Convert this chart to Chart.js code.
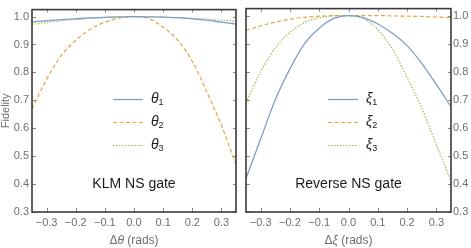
<!DOCTYPE html>
<html>
<head>
<meta charset="utf-8">
<script src="https://cdn.jsdelivr.net/npm/chart.js@4/dist/chart.umd.min.js"></script>
<style>
  html, body { margin: 0; padding: 0; background: #fff; }
  #wrap { position: relative; width: 471px; height: 248px; }
  canvas { position: absolute; top: 0; }
  #left { left: 0; }
  #right { left: 240px; }
</style>
</head>
<body>
<div id="wrap">
  <canvas id="left" width="240" height="248"></canvas>
  <canvas id="right" width="231" height="248"></canvas>
</div>
<script>
// offsets (rads) at which the fidelities were read
const OFFSETS = [-0.35, -0.3, -0.25, -0.2, -0.15, -0.1, -0.05, 0, 0.05, 0.1, 0.15, 0.2, 0.25, 0.3, 0.35];

// KLM NS gate
const THETA1 = [0.981, 0.985, 0.989, 0.992, 0.995, 0.997, 0.999, 1.0, 0.999, 0.998, 0.996, 0.992, 0.987, 0.980, 0.973];
const THETA2 = [0.67, 0.775, 0.86, 0.915, 0.955, 0.98, 0.995, 1.0, 0.993, 0.962, 0.915, 0.84, 0.73, 0.61, 0.47];
const THETA3 = [0.972, 0.979, 0.985, 0.990, 0.994, 0.997, 0.999, 1.0, 0.999, 0.998, 0.996, 0.994, 0.991, 0.987, 0.983];

// Reverse NS gate
const XI1 = [0.42, 0.56, 0.70, 0.81, 0.90, 0.955, 0.99, 1.0, 0.993, 0.97, 0.937, 0.893, 0.83, 0.755, 0.675];
const XI2 = [0.947, 0.963, 0.977, 0.987, 0.994, 0.998, 1.0, 1.0, 1.0, 1.0, 0.999, 0.998, 0.997, 0.995, 0.993];
const XI3 = [0.69, 0.80, 0.885, 0.94, 0.975, 0.992, 0.999, 1.0, 0.99, 0.95, 0.88, 0.78, 0.67, 0.54, 0.41];

const X_TICKS = [-0.3, -0.2, -0.1, 0, 0.1, 0.2, 0.3];
const Y_TICKS = [0.3, 0.4, 0.5, 0.6, 0.7, 0.8, 0.9, 1.0];

const FONT = "'Liberation Sans', Arial, sans-serif";
const TICK_COLOR = '#6e6e6e';
const STYLES = [
  { color: '#819dca', dash: [], width: 1.3 },
  { color: '#e4a63c', dash: [4, 2.5], width: 1.2 },
  { color: '#a0bc52', dash: [1.5, 1.5], width: 1.2 },
];
const LEGEND_ROWS = [99, 122, 145];

const fmt = v => (v < 0 ? '\u2212' : '') + Math.abs(v).toFixed(1);

function series(labels, values) {
  return values.map((vals, i) => ({
    label: labels[i],
    data: OFFSETS.map((x, k) => ({ x, y: vals[k] })),
    borderColor: STYLES[i].color,
    borderDash: STYLES[i].dash,
    borderWidth: STYLES[i].width,
    pointRadius: 0,
    fill: false,
    cubicInterpolationMode: 'monotone',
  }));
}

// draw text made of pieces [text, italic, size, dy]
function drawPieces(ctx, pieces, cx, cy, color) {
  ctx.fillStyle = color;
  ctx.textBaseline = 'middle';
  ctx.textAlign = 'left';
  let w = 0;
  pieces.forEach(p => { ctx.font = `${p[1] ? 'italic ' : ''}${p[2]}px ${FONT}`; w += ctx.measureText(p[0]).width; });
  let x = cx - w / 2;
  pieces.forEach(p => {
    ctx.font = `${p[1] ? 'italic ' : ''}${p[2]}px ${FONT}`;
    ctx.fillText(p[0], x, cy + (p[3] || 0));
    x += ctx.measureText(p[0]).width;
  });
}

function framePlugin(opts) {
  return {
    id: 'frame',
    afterDatasetsDraw(chart) {
      const { ctx, chartArea: a, scales: { x, y } } = chart;
      ctx.save();
      // inner ticks on all four sides
      ctx.strokeStyle = '#8a8a8a';
      ctx.lineWidth = 1;
      ctx.beginPath();
      X_TICKS.forEach(v => {
        const px = Math.round(x.getPixelForValue(v)) + 0.5;
        ctx.moveTo(px, a.bottom); ctx.lineTo(px, a.bottom - 4);
        ctx.moveTo(px, a.top); ctx.lineTo(px, a.top + 3);
      });
      Y_TICKS.forEach(v => {
        const py = Math.round(y.getPixelForValue(v)) + 0.5;
        ctx.moveTo(a.left, py); ctx.lineTo(a.left + 4, py);
        ctx.moveTo(a.right, py); ctx.lineTo(a.right - 3, py);
      });
      ctx.stroke();
      ctx.strokeStyle = '#3a3a3a';
      ctx.lineWidth = 1.6;
      ctx.strokeRect(a.left, a.top, a.right - a.left, a.bottom - a.top);

      // legend
      chart.data.datasets.forEach((ds, i) => {
        const ly = LEGEND_ROWS[i];
        ctx.strokeStyle = ds.borderColor;
        ctx.lineWidth = ds.borderWidth;
        ctx.setLineDash(ds.borderDash);
        ctx.beginPath();
        ctx.moveTo(opts.legendX, ly + 0.5);
        ctx.lineTo(opts.legendX + 30, ly + 0.5);
        ctx.stroke();
        ctx.setLineDash([]);
        ctx.fillStyle = '#222';
        ctx.textAlign = 'left';
        ctx.textBaseline = 'middle';
        ctx.font = `italic 14px ${FONT}`;
        const sym = ds.label[0];
        ctx.fillText(sym, opts.legendX + 38, ly);
        const sw = ctx.measureText(sym).width;
        ctx.font = `9px ${FONT}`;
        ctx.fillText(ds.label.slice(1), opts.legendX + 38 + sw, ly + 4);
      });

      // panel label
      ctx.fillStyle = '#1a1a1a';
      ctx.font = `14px ${FONT}`;
      ctx.textAlign = 'center';
      ctx.textBaseline = 'middle';
      ctx.fillText(opts.name, (a.left + a.right) / 2, 184);

      // x axis title
      drawPieces(ctx, [['\u0394', false, 12], [opts.sym, true, 12], [' (rads)', false, 12]],
        (a.left + a.right) / 2, 241, TICK_COLOR);

      if (opts.yTitle) {
        ctx.save();
        ctx.translate(6, (a.top + a.bottom) / 2);
        ctx.rotate(-Math.PI / 2);
        ctx.fillStyle = TICK_COLOR;
        ctx.font = `11px ${FONT}`;
        ctx.textAlign = 'center';
        ctx.textBaseline = 'middle';
        ctx.fillText('Fidelity', 0, 0);
        ctx.restore();
      }
      ctx.restore();
    }
  };
}

function makeChart(id, labels, values, opts) {
  return new Chart(document.getElementById(id), {
    type: 'line',
    data: { datasets: series(labels, values) },
    options: {
      responsive: false,
      animation: false,
      layout: { padding: opts.padding },
      plugins: { legend: { display: false }, tooltip: { enabled: false } },
      scales: {
        x: {
          type: 'linear',
          min: -0.35,
          max: 0.35,
          grid: { drawOnChartArea: false, drawTicks: false },
          border: { display: false },
          afterBuildTicks: s => { s.ticks = X_TICKS.map(value => ({ value })); },
          afterFit: s => { s.height = 36; },
          ticks: { callback: fmt, color: TICK_COLOR, font: { family: FONT, size: 11 }, padding: 4, maxRotation: 0, autoSkip: false },
        },
        y: {
          type: 'linear',
          position: opts.yPos,
          min: 0.3,
          max: 1.025,
          grid: { drawOnChartArea: false, drawTicks: false },
          border: { display: false },
          afterBuildTicks: s => { s.ticks = Y_TICKS.map(value => ({ value })); },
          afterFit: s => { s.width = opts.yWidth; },
          ticks: { callback: v => v.toFixed(1), color: TICK_COLOR, font: { family: FONT, size: 11 }, padding: opts.yPad, autoSkip: false },
        },
      },
    },
    plugins: [framePlugin(opts)],
  });
}

makeChart('left', ['\u03b81', '\u03b82', '\u03b83'], [THETA1, THETA2, THETA3], {
  padding: { top: 7, right: 4, left: 0, bottom: 0 },
  yPos: 'left', yWidth: 32, yPad: 3, legendX: 113, name: 'KLM NS gate', sym: '\u03b8', yTitle: true,
});

makeChart('right', ['\u03be1', '\u03be2', '\u03be3'], [XI1, XI2, XI3], {
  padding: { top: 7, right: 0, left: 6, bottom: 0 },
  yPos: 'right', yWidth: 20, yPad: 2, legendX: 88, name: 'Reverse NS gate', sym: '\u03be', yTitle: false,
});
</script>
</body>
</html>
